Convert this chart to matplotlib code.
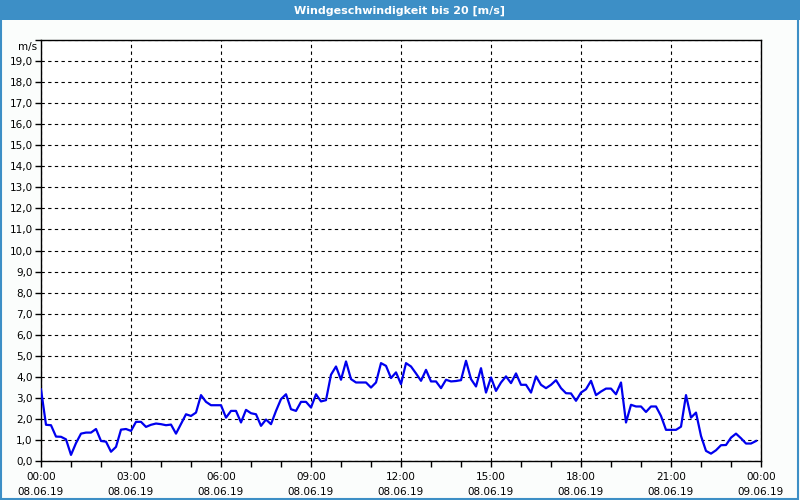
import matplotlib.pyplot as plt
from matplotlib.patches import Rectangle
from matplotlib.ticker import MultipleLocator

# Messwerte alle 10 Minuten, 08.06.19
werte = [3.4, 1.72, 1.7, 1.16, 1.15, 1.03, 0.29, 0.85, 1.3, 1.35,
         1.35, 1.52, 0.95, 0.92, 0.44, 0.67, 1.49, 1.52, 1.43, 1.86,
         1.86, 1.62, 1.72, 1.78, 1.75, 1.70, 1.73, 1.3, 1.76, 2.22,
         2.14, 2.3, 3.13, 2.81, 2.65, 2.65, 2.65, 2.06, 2.38, 2.38,
         1.83, 2.43, 2.27, 2.22, 1.67, 1.97, 1.75, 2.38, 2.94, 3.17,
         2.46, 2.38, 2.81, 2.81, 2.54, 3.17, 2.83, 2.89, 4.1, 4.49,
         3.86, 4.73, 3.89, 3.73, 3.73, 3.73, 3.49, 3.73, 4.65, 4.52,
         3.94, 4.21, 3.65, 4.65, 4.49, 4.16, 3.81, 4.33, 3.78, 3.78,
         3.46, 3.86, 3.78, 3.80, 3.84, 4.76, 3.89, 3.54, 4.41, 3.25,
         3.97, 3.33, 3.73, 4.02, 3.7, 4.16, 3.62, 3.62, 3.25, 4.02,
         3.62, 3.46, 3.62, 3.84, 3.46, 3.22, 3.21, 2.86, 3.25, 3.41,
         3.81, 3.13, 3.3, 3.44, 3.44, 3.17, 3.73, 1.83, 2.67, 2.59,
         2.59, 2.33, 2.59, 2.59, 2.14, 1.48, 1.48, 1.48, 1.63, 3.13,
         2.06, 2.3, 1.19, 0.48, 0.35, 0.51, 0.75, 0.76, 1.11, 1.3,
         1.08, 0.83, 0.83, 0.95]
intervall_min = 10

tick_zeiten = ['00:00', '03:00', '06:00', '09:00', '12:00', '15:00', '18:00', '21:00', '00:00']
tick_daten = ['08.06.19'] * 8 + ['09.06.19']
y_ticks = list(range(0, 21))

titel = 'Windgeschwindigkeit bis 20 [m/s]'
einheit = 'm/s'

stunden = [i * intervall_min / 60 for i in range(len(werte))]

fig = plt.figure(figsize=(8, 5), dpi=100)
fig.patch.set_facecolor('#fbfdfc')

# Titelleiste und Rahmen
fig.patches.append(Rectangle((0, 0.96), 1, 0.04, transform=fig.transFigure,
                             facecolor='#3d8fc6', edgecolor='none', zorder=0))
fig.patches.append(Rectangle((0.001, 0.002), 0.997, 0.996, transform=fig.transFigure,
                             facecolor='none', edgecolor='#3d8fc6', linewidth=1.5, zorder=1))
fig.text(0.5, 0.979, titel, color='white', fontsize=8, fontweight='bold',
         ha='center', va='center')

ax = fig.add_axes([41 / 800, 1 - 461 / 500, 720 / 800, 421 / 500])
ax.set_facecolor('white')
ax.plot(stunden, werte, color='#0000ee', linewidth=1.6, zorder=3)

ax.set_xlim(0, 24)
ax.set_ylim(0, 20)
ax.set_yticks(y_ticks)
# 20,0 wird nicht beschriftet, dort steht die Einheit
ax.set_yticklabels([f'{v:.1f}'.replace('.', ',') if v < 20 else '' for v in y_ticks])
ax.set_xticks(range(0, 25, 3))
ax.set_xticklabels([f'{z}\n{d}' for z, d in zip(tick_zeiten, tick_daten)],
                   linespacing=1.6)
ax.xaxis.set_minor_locator(MultipleLocator(1))

ax.tick_params(axis='both', which='both', direction='out', length=4, width=1,
               labelsize=7.5, pad=2)
ax.tick_params(axis='x', pad=4)

ax.grid(True, which='major', color='black', linestyle=(0, (3, 3)), linewidth=0.8)
for s in ax.spines.values():
    s.set_color('black')
    s.set_linewidth(1)

ax.text(-0.006, 1.0 - 0.004, einheit, transform=ax.transAxes, ha='right', va='top', fontsize=7.5)

fig.savefig('out.png', dpi=100, facecolor=fig.get_facecolor())
